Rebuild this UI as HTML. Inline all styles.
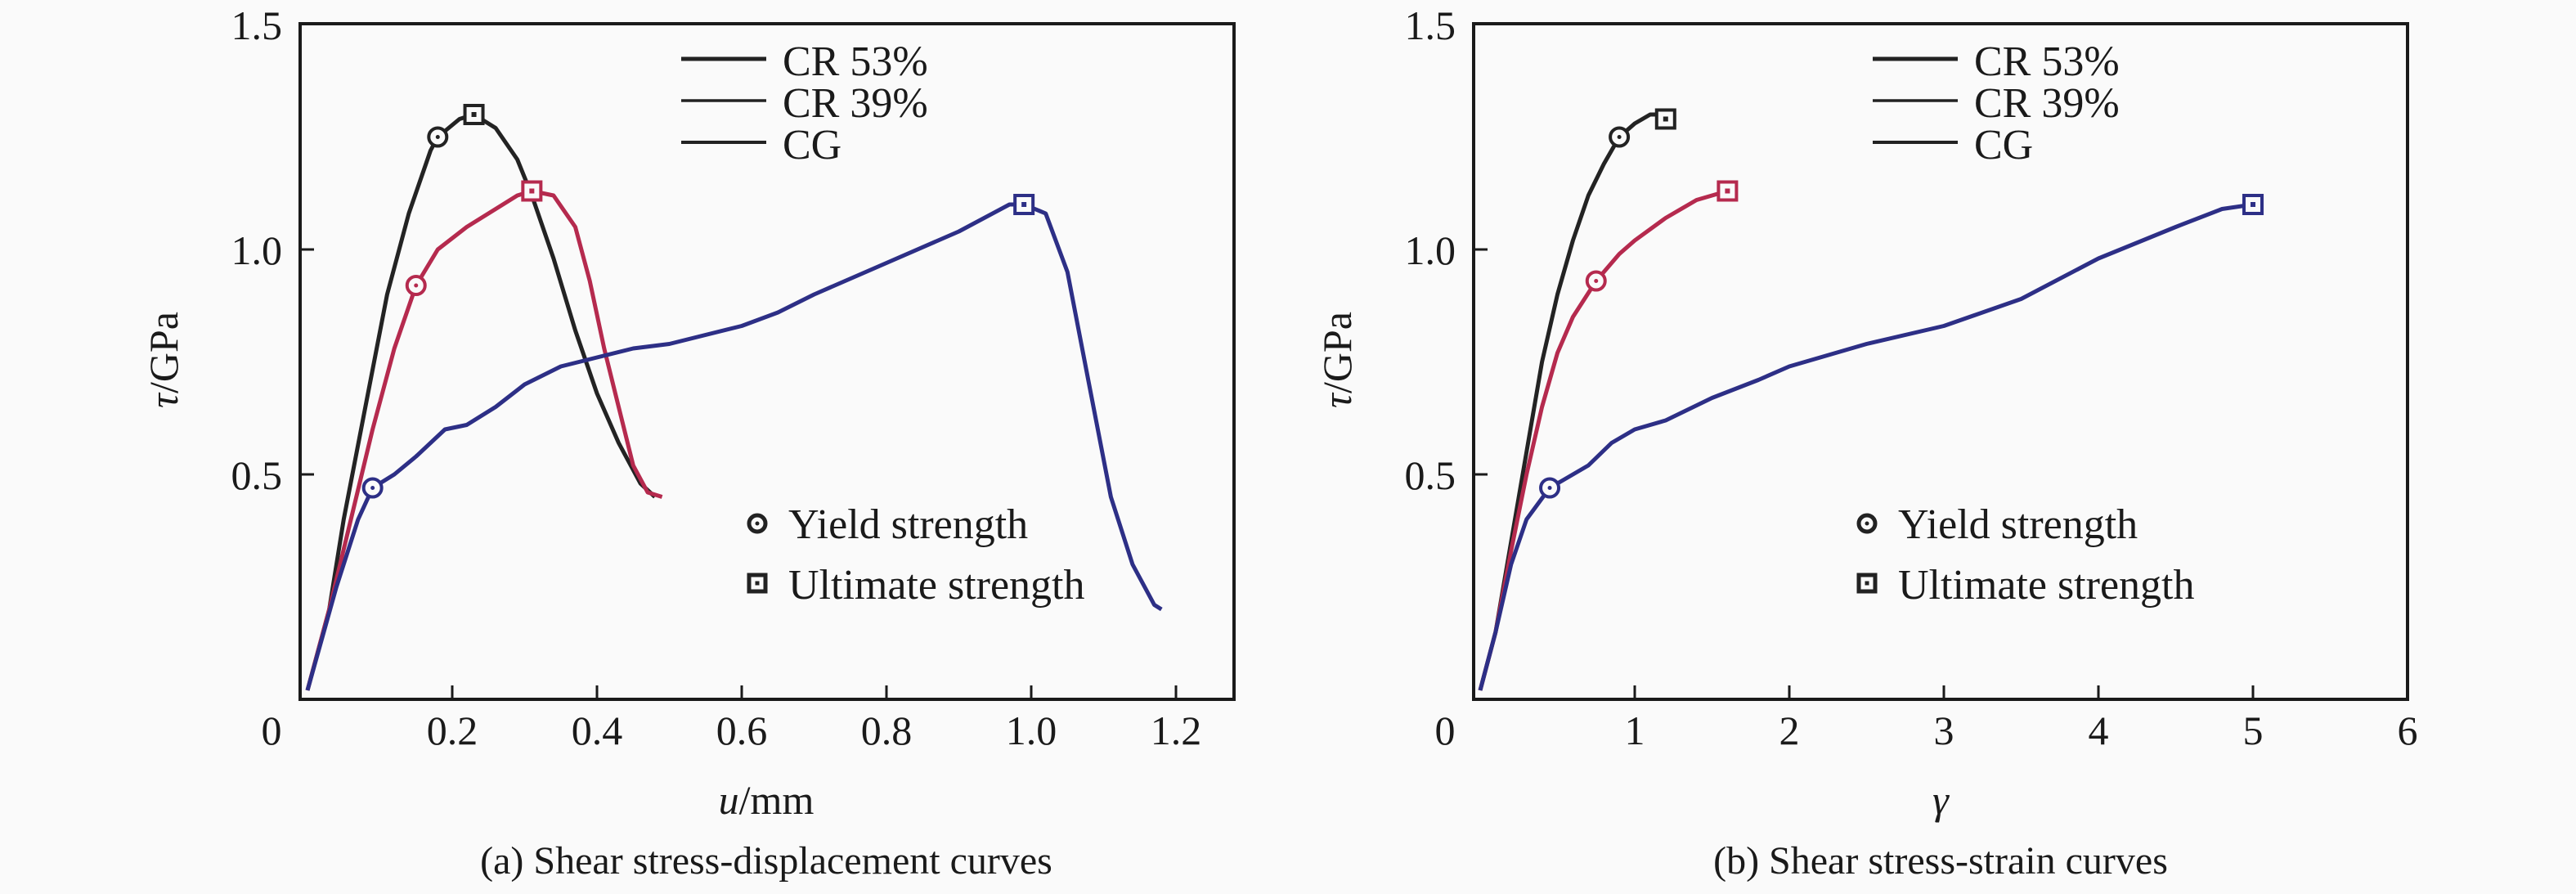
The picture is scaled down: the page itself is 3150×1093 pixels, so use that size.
<!DOCTYPE html>
<html><head><meta charset="utf-8"><style>
html,body{margin:0;padding:0;background:#fafafa}
svg{display:block}
text{font-family:"Liberation Serif",serif;fill:#1a1a1a}
</style></head><body>
<svg id="chart" width="3150" height="1093" viewBox="0 0 3150 1093">
<rect width="3150" height="1093" fill="#fafafa"/>
</svg>
<script>
// ---- data (a) shear stress vs displacement ----
const uTicks = [0.2, 0.4, 0.6, 0.8, 1.0, 1.2];
const uTickLabels = ["0.2","0.4","0.6","0.8","1.0","1.2"];
const gTicks = [1, 2, 3, 4, 5, 6];
const gTickLabels = ["1","2","3","4","5","6"];
const tauTicks = [0.5, 1.0, 1.5];
const tauTickLabels = ["0.5","1.0","1.5"];
const seriesNames = ["CR 53%","CR 39%","CG"];

const aCR53u = [0,0.03,0.05,0.08,0.11,0.14,0.17,0.18,0.21,0.23,0.26,0.29,0.31,0.34,0.37,0.40,0.43,0.46,0.48];
const aCR53t = [0.02,0.2,0.4,0.65,0.9,1.08,1.22,1.25,1.29,1.30,1.27,1.2,1.12,0.98,0.82,0.68,0.57,0.48,0.45];
const aCR39u = [0,0.03,0.06,0.09,0.12,0.15,0.18,0.22,0.26,0.29,0.31,0.34,0.37,0.39,0.41,0.43,0.45,0.47,0.49];
const aCR39t = [0.02,0.2,0.4,0.6,0.78,0.92,1.0,1.05,1.09,1.12,1.13,1.12,1.05,0.93,0.78,0.65,0.52,0.46,0.45];
const aCGu = [0,0.04,0.07,0.09,0.12,0.15,0.19,0.22,0.26,0.3,0.35,0.4,0.45,0.5,0.6,0.65,0.7,0.8,0.9,0.97,0.99,1.02,1.05,1.08,1.11,1.14,1.17,1.18];
const aCGt = [0.02,0.25,0.4,0.47,0.5,0.54,0.6,0.61,0.65,0.7,0.74,0.76,0.78,0.79,0.83,0.86,0.9,0.97,1.04,1.1,1.10,1.08,0.95,0.7,0.45,0.3,0.21,0.2];
const aYieldU = [0.18,0.15,0.09];
const aYieldT = [1.25,0.92,0.47];
const aUltU = [0.23,0.31,0.99];
const aUltT = [1.30,1.13,1.10];

// ---- data (b) shear stress vs strain ----
const bCR53g = [0,0.1,0.2,0.3,0.4,0.5,0.6,0.7,0.8,0.9,1.0,1.1,1.2];
const bCR53t = [0.02,0.15,0.35,0.55,0.75,0.9,1.02,1.12,1.19,1.25,1.28,1.30,1.30];
const bCR39g = [0,0.1,0.2,0.3,0.4,0.5,0.6,0.75,0.9,1.0,1.2,1.4,1.6];
const bCR39t = [0.02,0.15,0.33,0.5,0.65,0.77,0.85,0.93,0.99,1.02,1.07,1.11,1.13];
const bCGg = [0,0.1,0.2,0.3,0.45,0.55,0.7,0.85,1.0,1.2,1.5,1.8,2.0,2.5,3.0,3.5,4.0,4.5,4.8,5.0];
const bCGt = [0.02,0.15,0.3,0.4,0.47,0.49,0.52,0.57,0.6,0.62,0.67,0.71,0.74,0.79,0.83,0.89,0.98,1.05,1.09,1.10];
const bYieldG = [0.9,0.75,0.45];
const bYieldT = [1.25,0.93,0.47];
const bUltG = [1.2,1.6,5.0];
const bUltT = [1.29,1.13,1.10];

const colors = ["#232323","#b52a4e","#2d2f86"];
const NS = "http://www.w3.org/2000/svg";
const svg = document.getElementById("chart");
function mk(tag, attrs, parent){const e=document.createElementNS(NS,tag);for(const k in attrs)e.setAttribute(k,attrs[k]);(parent||svg).appendChild(e);return e;}
function txt(s,x,y,size,anchor,parent){const t=mk("text",{x:x,y:y,"font-size":size,"text-anchor":anchor||"start"},parent);t.textContent=s;return t;}

function panel(cfg){
  const g = mk("g",{});
  
  
  const X = v => cfg.x0 + v*cfg.xs;
  const Y = v => 855 - v*550;
  const fr = mk("rect",{x:cfg.fl,y:29,width:cfg.fr-cfg.fl,height:826,fill:"none",stroke:"#1a1a1a","stroke-width":4},g);
  
  
  cfg.xt.forEach((v,i)=>{
    const l = mk("line",{x1:X(v),x2:X(v),y1:855,y2:838,stroke:"#1a1a1a","stroke-width":3},g);
    
    
    const t = txt(cfg.xl[i],X(v),910,50,"middle",g);
    
    
  });
  const z = txt("0",cfg.fl-35,910,50,"middle",g);
  
  
  tauTicks.forEach((v,i)=>{
    if(v<1.5){const l=mk("line",{x1:cfg.fl,x2:cfg.fl+17,y1:Y(v),y2:Y(v),stroke:"#1a1a1a","stroke-width":3},g);
      
      }
    const t = txt(tauTickLabels[i],cfg.fl-22,Y(v)+18,50,"end",g);
    
    
  });
  const yt = mk("text",{x:0,y:0,"font-size":50,"text-anchor":"middle",transform:`translate(${cfg.fl-135},440) rotate(-90)`},g);
  yt.innerHTML = '<tspan font-style="italic">τ</tspan>/GPa';
  
  
  yt.setAttribute('transform', `translate(${cfg.fl-150},440) rotate(-90)`);
  const xt = mk("text",{x:cfg.xtx,y:995,"font-size":50,"text-anchor":"middle"},g);
  xt.innerHTML = cfg.xtitle;
  
  
  const cap = txt(cfg.caption,cfg.xtx,1068,48,"middle",g);
  
  
  cfg.series.forEach((s,i)=>{
    const d = s[0].map((v,j)=>(j?"L":"M")+X(v).toFixed(1)+","+Y(s[1][j]).toFixed(1)).join(" ");
    const p = mk("path",{d:d,fill:"none",stroke:colors[i],"stroke-width":5,"stroke-linejoin":"round"},g);
    
    
  });
  for(let i=0;i<3;i++){
    const c = mk("circle",{cx:X(cfg.yx[i]),cy:Y(cfg.yy[i]),r:11,fill:"#fafafa",stroke:colors[i],"stroke-width":4},g);
    
    
    mk("circle",{cx:X(cfg.yx[i]),cy:Y(cfg.yy[i]),r:2.5,fill:colors[i]},g);
    const r = mk("rect",{x:X(cfg.ux[i])-11,y:Y(cfg.uy[i])-11,width:22,height:22,fill:"#fafafa",stroke:colors[i],"stroke-width":4},g);
    
    
    mk("rect",{x:X(cfg.ux[i])-3,y:Y(cfg.uy[i])-3,width:6,height:6,fill:colors[i]},g);
  }
  const lg = mk("g",{},g);
  
  
  const ly=[72,123,174], lw=[5,3.5,4];
  seriesNames.forEach((n,i)=>{
    mk("line",{x1:cfg.lx,x2:cfg.lx+104,y1:ly[i],y2:ly[i],stroke:"#222","stroke-width":lw[i]},lg);
    const t = txt(n,cfg.lx+124,ly[i]+20,52,"start",lg);
    
    
  });
  const ml = mk("g",{},g);
  
  
  mk("circle",{cx:cfg.mx,cy:640,r:10,fill:"#fafafa",stroke:"#222","stroke-width":5},ml);
  mk("circle",{cx:cfg.mx,cy:640,r:2.5,fill:"#222"},ml);
  mk("rect",{x:cfg.mx-10,y:703,width:20,height:20,fill:"#fafafa",stroke:"#222","stroke-width":5},ml);
  mk("rect",{x:cfg.mx-2.5,y:710.5,width:5,height:5,fill:"#222"},ml);
  const t1 = txt("Yield strength",cfg.mx+38,658,52,"start",ml);
  
  
  const t2 = txt("Ultimate strength",cfg.mx+38,732,52,"start",ml);
  
  
}

panel({name:"panel-a-displacement",x0:376,xs:885,fl:367,fr:1509,xt:uTicks,xl:uTickLabels,
  xtitle:'<tspan font-style="italic">u</tspan>/mm',xtx:937,caption:"(a) Shear stress-displacement curves",
  series:[[aCR53u,aCR53t],[aCR39u,aCR39t],[aCGu,aCGt]],
  yx:aYieldU,yy:aYieldT,ux:aUltU,uy:aUltT,lx:833,mx:926});
panel({name:"panel-b-strain",x0:1810,xs:189,fl:1802,fr:2944,xt:gTicks,xl:gTickLabels,
  xtitle:'<tspan font-style="italic">γ</tspan>',xtx:2373,caption:"(b) Shear stress-strain curves",
  series:[[bCR53g,bCR53t],[bCR39g,bCR39t],[bCGg,bCGt]],
  yx:bYieldG,yy:bYieldT,ux:bUltG,uy:bUltT,lx:2290,mx:2283});
</script>
</body></html>
